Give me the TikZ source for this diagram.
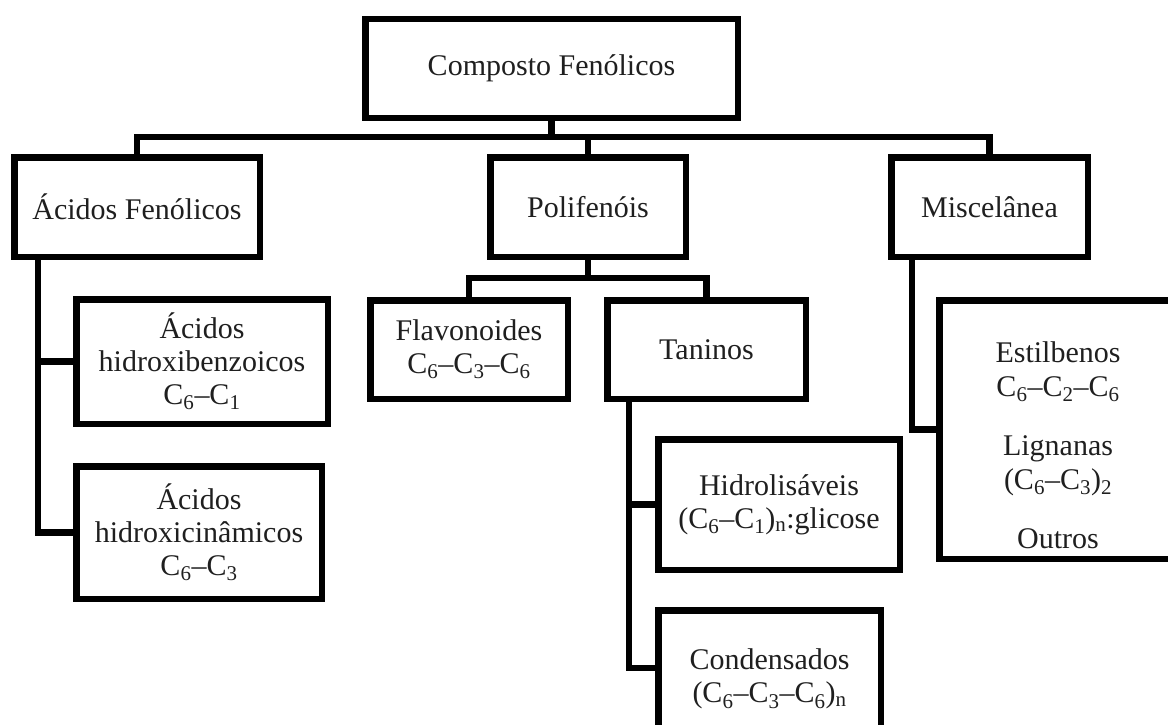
\documentclass[tikz,border=0pt]{standalone}
\usepackage{fontspec}
\setmainfont{Liberation Serif}
\begin{document}
\begin{tikzpicture}[x=1pt,y=-1pt,line width=6.5pt,
  box/.style={draw=black,rectangle,inner sep=0pt,outer sep=0pt,align=center,
    font=\fontsize{30}{33}\selectfont,text=black!88},
  txt/.style={inner sep=0pt,align=center,font=\fontsize{30}{34}\selectfont,text=black!88},
  link/.style={draw=black,line join=miter,line cap=rect}]
\useasboundingbox (0,0) rectangle (1168,725);
% level 0
\node[box,minimum width=372.5pt,minimum height=98.5pt] (top) at (551.5,68.5) {Composto Fenólicos};
% level 1
\node[box,minimum width=245.5pt,minimum height=99.5pt] (af) at (137,207) {Ácidos Fenólicos};
\node[box,minimum width=195.5pt,minimum height=99.5pt] (poli) at (588,207) {Polifenóis};
\node[box,minimum width=196.5pt,minimum height=99.5pt] (misc) at (989.5,207) {Miscelânea};
% under Acidos Fenolicos
\node[box,minimum width=251.5pt,minimum height=124.5pt] (hb) at (202,361.5)
  {Ácidos\\hidroxibenzoicos\\C\textsubscript{6}–C\textsubscript{1}};
\node[box,minimum width=245.5pt,minimum height=132.5pt] (hc) at (199,532.5)
  {Ácidos\\hidroxicinâmicos\\C\textsubscript{6}–C\textsubscript{3}};
% under Polifenois
\node[box,minimum width=197.5pt,minimum height=98.5pt] (flav) at (469,349.5)
  {Flavonoides\\C\textsubscript{6}–C\textsubscript{3}–C\textsubscript{6}};
\node[box,minimum width=198.5pt,minimum height=98.5pt] (tan) at (706.5,349.5) {Taninos};
\node[box,minimum width=241.5pt,minimum height=130.5pt] (hid) at (779,504.5)
  {Hidrolisáveis\\(C\textsubscript{6}–C\textsubscript{1})\textsubscript{n}:glicose};
\node[box,minimum width=222.5pt,minimum height=137.5pt] (cond) at (769.5,679)
  {Condensados\\(C\textsubscript{6}–C\textsubscript{3}–C\textsubscript{6})\textsubscript{n}};
% under Miscelanea
\node[box,minimum width=237.5pt,minimum height=258.5pt] (est) at (1058,429.5) {};
\node[txt] (esttxt) at (1058,445)
  {Estilbenos\\C\textsubscript{6}–C\textsubscript{2}–C\textsubscript{6}\\[25pt]Lignanas\\(C\textsubscript{6}–C\textsubscript{3})\textsubscript{2}\\[25pt]Outros};
% connectors
\coordinate (bar) at (0,137);
\draw[link] (af.north) -- (af.north |- bar) -- (misc.north |- bar) -- (misc.north);
\draw[link] (top.south) -- (top.south |- bar);
\draw[link] (poli.north) -- (poli.north |- bar);
\coordinate (afs) at (38,260);
\draw[link] (afs) |- (hc.west);
\draw[link] (afs |- hb.west) -- (hb.west);
\coordinate (pbar) at (0,278);
\draw[link] (flav.north) -- (flav.north |- pbar) -- (tan.north |- pbar) -- (tan.north);
\draw[link] (poli.south) -- (poli.south |- pbar);
\coordinate (ts) at (629,402);
\draw[link] (ts) |- ([yshift=11pt]cond.west);
\draw[link] (ts |- hid.west) -- (hid.west);
\coordinate (ms) at (912,260);
\draw[link] (ms) |- (est.west);
\end{tikzpicture}
\end{document}
